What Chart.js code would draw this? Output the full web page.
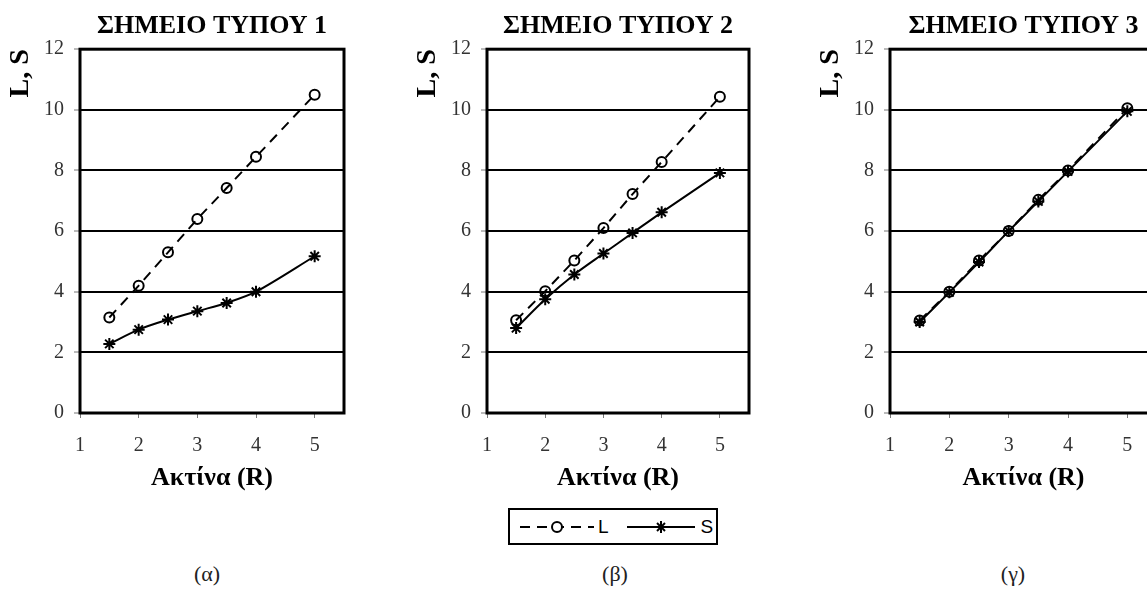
<!DOCTYPE html>
<html>
<head>
<meta charset="utf-8">
<script src="https://cdn.jsdelivr.net/npm/chart.js@4.4.1/dist/chart.umd.min.js"></script>
<style>
  html, body { margin: 0; padding: 0; background: #fff; overflow: hidden; }
  body { width: 1147px; height: 590px; position: relative; }
  .panel { position: absolute; top: 0; height: 500px; }
  .caption { position: absolute; top: 561px; width: 80px; text-align: center; font: 22px "Liberation Serif", serif; color: #222; }
  #legend {
    position: absolute; left: 508px; top: 508px; width: 206px; height: 33px;
    border: 2px solid #000; display: flex; align-items: center;
    font: 19px "Liberation Sans", Arial, sans-serif; color: #000;
  }
  #legend svg { display: block; }
</style>
</head>
<body>
<canvas id="panel1" class="panel" style="left:0px;width:380px"></canvas>
<canvas id="panel2" class="panel" style="left:407px;width:380px"></canvas>
<canvas id="panel3" class="panel" style="left:810px;width:390px"></canvas>

<div id="legend">
  <svg width="78" height="20" style="margin-left:8px"><line x1="2" y1="10" x2="76" y2="10" stroke="#000" stroke-width="2" stroke-dasharray="10,7"/><circle cx="39" cy="10" r="5" fill="#fff" stroke="#000" stroke-width="2"/></svg>
  <span style="margin-left:2px">L</span>
  <svg width="72" height="20" style="margin-left:16px"><line x1="2" y1="10" x2="70" y2="10" stroke="#000" stroke-width="2"/><g stroke="#000" stroke-width="2"><line x1="36" y1="4" x2="36" y2="16"/><line x1="30" y1="10" x2="42" y2="10"/><line x1="32" y1="6" x2="40" y2="14"/><line x1="40" y1="6" x2="32" y2="14"/></g></svg>
  <span style="margin-left:4px">S</span>
</div>

<div class="caption" style="left:167px">(α)</div>
<div class="caption" style="left:575px">(β)</div>
<div class="caption" style="left:973px">(γ)</div>

<script>
// radius values shared by all three panels
const radius = [1.5, 2, 2.5, 3, 3.5, 4, 5];
const xTicks = [1, 2, 3, 4, 5];

// panel (α)
const l1 = [3.15, 4.2, 5.3, 6.4, 7.42, 8.45, 10.5];
const s1 = [2.28, 2.75, 3.08, 3.36, 3.63, 4.0, 5.17];
// panel (β)
const l2 = [3.06, 4.02, 5.03, 6.1, 7.22, 8.28, 10.43];
const s2 = [2.8, 3.75, 4.57, 5.26, 5.94, 6.62, 7.92];
// panel (γ)
const l3 = [3.05, 4.0, 5.03, 6.0, 7.03, 8.0, 10.05];
const s3 = [3.0, 3.98, 4.98, 6.0, 6.98, 7.97, 9.95];

const titles = ["ΣΗΜΕΙΟ ΤΥΠΟΥ 1", "ΣΗΜΕΙΟ ΤΥΠΟΥ 2", "ΣΗΜΕΙΟ ΤΥΠΟΥ 3"];

Chart.defaults.font.family = '"Liberation Serif", "Times New Roman", serif';
Chart.defaults.color = "#000";

const frame = {
  id: "frame",
  afterDatasetsDraw(chart) {
    const { ctx, chartArea: a } = chart;
    ctx.save();
    ctx.strokeStyle = "#000";
    ctx.lineWidth = 3;
    ctx.strokeRect(a.left, a.top, a.right - a.left, a.bottom - a.top);
    ctx.restore();
  },
};

function toPoints(ys) {
  return ys.map((y, i) => ({ x: radius[i], y }));
}

function makePanel(id, title, lData, sData, padRight) {
  const ctx = document.getElementById(id);
  ctx.height = 500;
  return new Chart(ctx, {
    type: "line",
    data: {
      datasets: [
        {
          label: "L",
          data: toPoints(lData),
          borderColor: "#000",
          borderWidth: 2,
          borderDash: [10, 7],
          pointStyle: "circle",
          pointRadius: 5,
          pointBorderWidth: 2,
          pointBorderColor: "#000",
          pointBackgroundColor: "rgba(0,0,0,0)",
          tension: 0,
        },
        {
          label: "S",
          data: toPoints(sData),
          borderColor: "#000",
          borderWidth: 2,
          pointStyle: "star",
          pointRadius: 6,
          pointBorderWidth: 2,
          pointBorderColor: "#000",
          tension: 0.3,
        },
      ],
    },
    options: {
      responsive: false,
      animation: false,
      layout: { padding: { left: 0, right: padRight, top: 0, bottom: 0 } },
      plugins: {
        legend: { display: false },
        tooltip: { enabled: false },
        title: {
          display: true,
          text: title,
          fullSize: false,
          font: { size: 26, weight: "bold" },
          padding: { top: 11, bottom: 7 },
        },
      },
      scales: {
        x: {
          type: "linear",
          min: 1,
          max: 5.5,
          afterBuildTicks: (s) => { s.ticks = xTicks.map((v) => ({ value: v })); },
          afterFit: (s) => { s.height = 87; },
          border: { display: false },
          grid: { drawOnChartArea: false, drawTicks: true, tickLength: 5, tickColor: "#777", tickWidth: 1 },
          ticks: { font: { size: 20 }, color: "#333", padding: 16, maxRotation: 0 },
          title: {
            display: true,
            text: "Ακτίνα (R)",
            font: { size: 26, weight: "bold" },
            padding: { top: 0, bottom: 6 },
          },
        },
        y: {
          min: 0,
          max: 12,
          afterFit: (s) => { s.width = 80; },
          border: { display: false },
          grid: { color: "#000", lineWidth: 2, drawTicks: true, tickLength: 6, tickColor: "#777", tickWidth: 1 },
          ticks: { stepSize: 2, font: { size: 20 }, color: "#333", padding: 10 },
          title: {
            display: true,
            text: "L, S",
            align: "end",
            font: { size: 28, weight: "bold" },
            padding: { top: 4, bottom: 0 },
          },
        },
      },
    },
    plugins: [frame],
  });
}

function init() {
  document.getElementById("panel1").width = 380;
  document.getElementById("panel2").width = 380;
  document.getElementById("panel3").width = 390;
  makePanel("panel1", titles[0], l1, s1, 36);
  makePanel("panel2", titles[1], l2, s2, 38);
  makePanel("panel3", titles[2], l3, s3, 43);
}

init();
</script>
</body>
</html>
